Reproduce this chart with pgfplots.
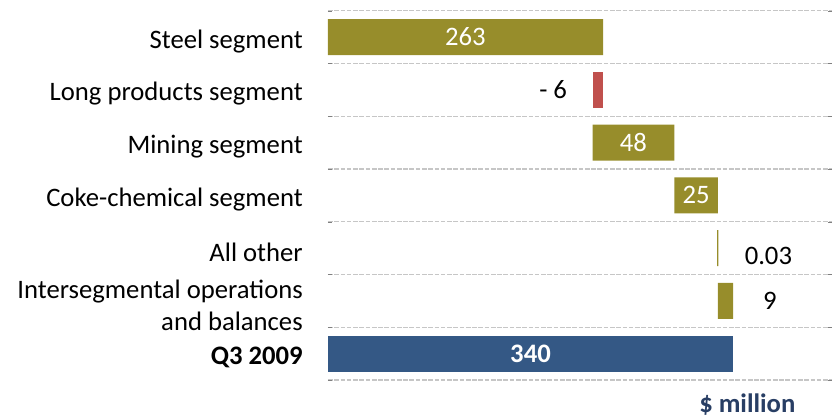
\documentclass[border=0pt]{standalone}
\usepackage{pgfplots}
\pgfplotsset{compat=1.18}
\usepackage{fontspec}
\setmainfont{Carlito}
\definecolor{barolive}{RGB}{151,141,43}
\definecolor{barred}{RGB}{192,80,77}
\definecolor{barblue}{RGB}{52,88,133}
\definecolor{unitblue}{RGB}{40,62,100}
\tikzset{lbl/.style={font=\fontsize{20}{24}\selectfont}}
\begin{document}
\begin{tikzpicture}
\begin{axis}[
  at={(246pt,-8pt)}, anchor=north west,
  scale only axis, width=378pt, height=277pt,
  xbar stacked, bar width=27pt,
  xmin=0, xmax=423.1,
  ymin=0, ymax=7, y dir=reverse,
  axis line style={draw=none},
  xtick=\empty,
  ytick={0.5,1.5,2.5,3.5,4.5,5.5,6.5},
  yticklabels={Steel segment, Long products segment, Mining segment, Coke-chemical segment, All other, {Intersegmental operations\\and balances}, \textbf{Q3 2009}},
  yticklabel style={anchor=east, align=right, inner xsep=0pt, xshift=-18.75pt, yshift=-3pt, font=\fontsize{20}{24}\selectfont},
  major tick length=0pt,
  minor ytick={0,1,2,3,4,5,6,7},
  yminorgrids,
  minor grid style={gray!45, line width=0.9pt, dash pattern=on 3.5pt off 1.2pt},
  clip=false,
]
\addplot[draw=none, fill=none] coordinates {(0,0.5) (222.2,1.5) (222.2,2.5) (290.7,3.5) (326.6,4.5) (327.2,5.5) (0,6.5)};
\addplot[draw=none, fill=barolive] coordinates {(230.9,0.5) (0,1.5) (68.5,2.5) (36.5,3.5) (1.2,4.5) (12.8,5.5) (0,6.5)};
\addplot[draw=none, fill=barred] coordinates {(0,0.5) (8.4,1.5) (0,2.5) (0,3.5) (0,4.5) (0,5.5) (0,6.5)};
\addplot[draw=none, fill=barblue] coordinates {(0,0.5) (0,1.5) (0,2.5) (0,3.5) (0,4.5) (0,5.5) (340,6.5)};
\coordinate (l1) at (axis cs:115.4,0.5);
\coordinate (l2) at (axis cs:189,1.5);
\coordinate (l3) at (axis cs:256.4,2.5);
\coordinate (l4) at (axis cs:309,3.5);
\coordinate (l5) at (axis cs:369.7,4.65);
\coordinate (l6) at (axis cs:371,5.5);
\coordinate (l7) at (axis cs:170,6.5);
\coordinate (l8) at (axis cs:352,7.47);
\end{axis}
\node[lbl, text=white] at (l1) {263};
\node[lbl, text=black] at (l2) {- 6};
\node[lbl, text=white] at (l3) {48};
\node[lbl, text=white] at (l4) {25};
\node[lbl, text=black] at (l5) {0.03};
\node[lbl, text=black] at (l6) {9};
\node[lbl, text=white] at (l7) {\textbf{340}};
\node[lbl, text=unitblue] at (l8) {\textbf{\$ million}};
\pgfresetboundingbox
\path[use as bounding box] (0,0) rectangle (624pt,-313.5pt);
\end{tikzpicture}
\end{document}
